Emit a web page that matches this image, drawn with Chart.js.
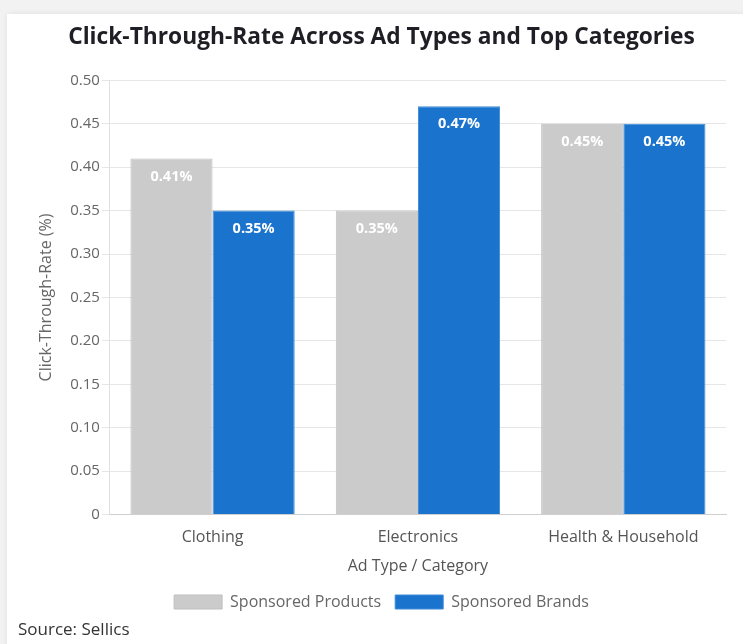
<!DOCTYPE html>
<html>
<head>
<meta charset="utf-8">
<script src="https://cdn.jsdelivr.net/npm/chart.js@4/dist/chart.umd.min.js"></script>
<style>
  html, body { margin: 0; padding: 0; width: 743px; height: 644px; overflow: hidden; background: #f2f2f2; }
  #card { position: absolute; left: 7px; top: 14px; width: 760px; height: 660px; background: #fff;
          box-shadow: 0 0 6px rgba(0,0,0,0.08); }
  #wrap { position: absolute; left: 0; top: 0; width: 742px; height: 610px; }
  #source { position: absolute; left: 11px; top: 603px; font: 17px "Open Sans", sans-serif; color: #333; }
</style>
</head>
<body>
<div id="card">
  <div id="wrap"><canvas id="c"></canvas></div>
  <div id="source">Source: Sellics</div>
</div>
<script>
const categories = ['Clothing', 'Electronics', 'Health & Household'];
const sponsoredProducts = [0.41, 0.35, 0.45];
const sponsoredBrands = [0.35, 0.47, 0.45];
const yTicks = [0, 0.05, 0.10, 0.15, 0.20, 0.25, 0.30, 0.35, 0.40, 0.45, 0.50];
</script>
<script>
// values printed inside the top of each bar
const barValueLabels = {
  id: 'barValueLabels',
  afterDatasetsDraw(chart) {
    const ctx = chart.ctx;
    ctx.save();
    ctx.font = 'bold 14.5px "Open Sans", sans-serif';
    ctx.fillStyle = '#ffffff';
    ctx.textAlign = 'center';
    ctx.textBaseline = 'middle';
    chart.data.datasets.forEach((ds, i) => {
      chart.getDatasetMeta(i).data.forEach((bar, j) => {
        ctx.fillText(ds.data[j].toFixed(2) + '%', bar.x, bar.y + 18);
      });
    });
    ctx.restore();
  }
};

const FONT = '"Open Sans", sans-serif';
new Chart(document.getElementById('c'), {
  type: 'bar',
  data: {
    labels: categories,
    datasets: [
      { label: 'Sponsored Products', data: sponsoredProducts, backgroundColor: '#cbcbcb',
        borderColor: '#bfbfbf', borderWidth: 1 },
      { label: 'Sponsored Brands', data: sponsoredBrands, backgroundColor: '#1a73cc',
        borderColor: '#3d8ad6', borderWidth: 1 }
    ]
  },
  options: {
    responsive: true,
    maintainAspectRatio: false,
    animation: false,
    datasets: { bar: { categoryPercentage: 0.8, barPercentage: 1.0 } },
    layout: { padding: { left: 30, right: 23, top: 4, bottom: 4 } },
    plugins: {
      title: { display: true, text: 'Click-Through-Rate Across Ad Types and Top Categories',
        color: '#1e1e24', font: { family: FONT, size: 22.75, weight: 'bold' }, padding: { top: 6, bottom: 29 } },
      legend: { position: 'bottom',
        labels: { boxWidth: 48, boxHeight: 14, color: '#666', font: { family: FONT, size: 16 }, padding: 14 } },
      tooltip: { enabled: false }
    },
    scales: {
      x: {
        grid: { display: false },
        border: { color: '#cfcfcf' },
        ticks: { color: '#555', font: { family: FONT, size: 16 }, padding: 5 },
        title: { display: true, text: 'Ad Type / Category', color: '#555', font: { family: FONT, size: 16 }, padding: { top: 5 } }
      },
      y: {
        min: 0, max: 0.5,
        afterBuildTicks(axis) { axis.ticks = yTicks.map(v => ({ value: v })); },
        grid: { color: '#e6e6e6', tickLength: 8 },
        border: { color: '#e0e0e0' },
        ticks: { color: '#666', font: { family: FONT, size: 15 }, padding: 2,
          callback: v => v === 0 ? '0' : v.toFixed(2) },
        title: { display: true, text: 'Click-Through-Rate (%)', color: '#666', font: { family: FONT, size: 16 }, padding: { top: 0, bottom: 12 } }
      }
    }
  },
  plugins: [barValueLabels]
});
</script>
</body>
</html>
